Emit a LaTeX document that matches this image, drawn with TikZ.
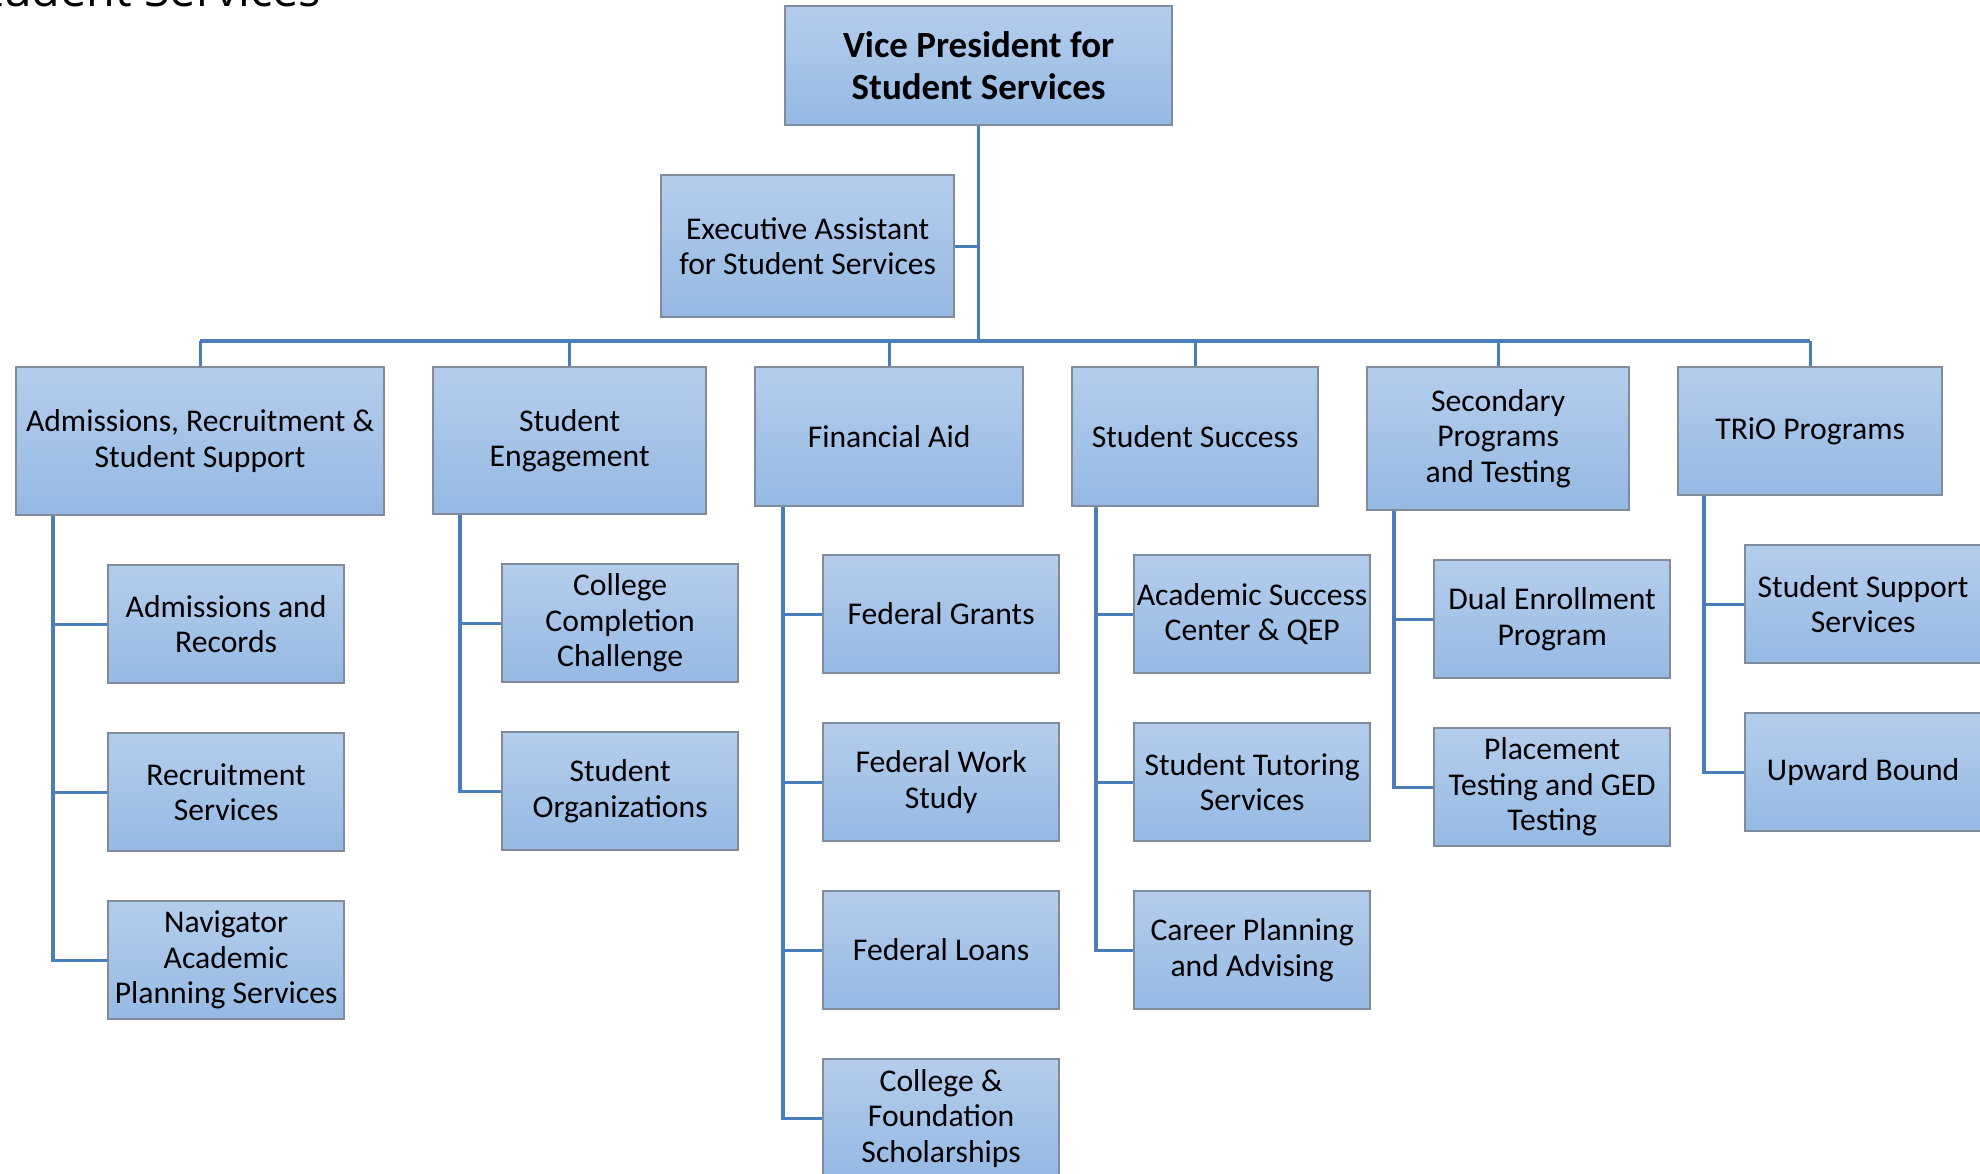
\documentclass[tikz,border=0pt]{standalone}
\usepackage{fontspec}
\setmainfont{Carlito}
\newfontfamily\titlefont{Open Sans}
\usepackage{xcolor}
\usepackage{tikz}
\usetikzlibrary{calc}
\usetikzlibrary{positioning}

\definecolor{boxtop}{RGB}{181,205,236}
\definecolor{boxbot}{RGB}{149,185,228}
\definecolor{boxline}{RGB}{128,140,156}
\definecolor{linkblue}{RGB}{74,126,187}

\tikzset{
	unit/.style={draw=boxline, line width=0.6pt, top color=boxtop, bottom color=boxbot,
		align=center, inner sep=0pt, anchor=north west, font=\fontsize{9}{10.1}\selectfont},
	sub/.style={unit, minimum width=2.36cm, minimum height=1.18cm},
	link/.style={draw=linkblue, line width=0.9pt},
}

\begin{document}
\begin{tikzpicture}[x=0.01cm,y=-0.01cm]
\clip (0,0) rectangle (1980,1173);
\fill[white] (0,0) rectangle (1980,1173);
% cut-off page title
\node[anchor=base east, inner sep=0pt, font=\titlefont\fontsize{13.3}{15}\selectfont] (title) at (322,7) {Student Services};
% top of the chart
\node[unit, minimum width=3.87cm, minimum height=1.19cm, font=\bfseries\fontsize{10.5}{11.9}\selectfont] (VP) at (784,5) {Vice President for\\Student Services};
\node[unit, minimum width=2.93cm, minimum height=1.42cm] (EA) at (660,174) {Executive Assistant\\for Student Services};
\coordinate (bus) at (977,341);
% departments
\node[unit, minimum width=3.68cm, minimum height=1.48cm] (ARSS) at (15,366) {Admissions, Recruitment \&\\Student Support};
\node[unit, minimum width=2.73cm, minimum height=1.47cm] (SE) at (432,366) {Student\\Engagement};
\node[unit, minimum width=2.68cm, minimum height=1.39cm] (FA) at (754,366) {Financial Aid};
\node[unit, minimum width=2.46cm, minimum height=1.39cm] (SS) at (1071,366) {Student Success};
\node[unit, minimum width=2.62cm, minimum height=1.43cm] (SPT) at (1366,366) {Secondary\\Programs\\and Testing};
\node[unit, minimum width=2.64cm, minimum height=1.28cm] (TRIO) at (1677,366) {TRiO Programs};
% units
\node[sub] (AR) at (107,564) {Admissions and\\Records};
\node[sub] (RS) at (107,732) {Recruitment\\Services};
\node[sub] (NAP) at (107,900) {Navigator\\Academic\\Planning Services};
\node[sub] (CCC) at (501,563) {College\\Completion\\Challenge};
\node[sub] (SO) at (501,731) {Student\\Organizations};
\node[sub] (FG) at (822,554) {Federal Grants};
\node[sub] (FWS) at (822,722) {Federal Work\\Study};
\node[sub] (FL) at (822,890) {Federal Loans};
\node[sub] (CFS) at (822,1058) {College \&\\Foundation\\Scholarships};
\node[sub] (ASC) at (1133,554) {Academic Success\\Center \& QEP};
\node[sub] (STS) at (1133,722) {Student Tutoring\\Services};
\node[sub] (CPA) at (1133,890) {Career Planning\\and Advising};
\node[sub] (DEP) at (1433,559) {Dual Enrollment\\Program};
\node[sub] (PT) at (1433,727) {Placement\\Testing and GED\\Testing};
\node[sub] (SSS) at (1744,544) {Student Support\\Services};
\node[sub] (UB) at (1744,712) {Upward Bound};
% connectors
\draw[link] (VP.south) -- (VP.south |- bus);
\draw[link] (EA.east) -- (EA.east -| VP.south);
\draw[link] (ARSS.north |- bus) -- (TRIO.north |- bus);
\foreach \h in {ARSS,SE,FA,SS,SPT,TRIO}
	\draw[link] (\h.north) -- (\h.north |- bus);
\foreach \p/\d/\c in {ARSS/0.38/AR, ARSS/0.38/RS, ARSS/0.38/NAP, SE/0.28/CCC, SE/0.28/SO,
	FA/0.29/FG, FA/0.29/FWS, FA/0.29/FL, FA/0.29/CFS, SS/0.25/ASC, SS/0.25/STS, SS/0.25/CPA,
	SPT/0.28/DEP, SPT/0.28/PT, TRIO/0.27/SSS, TRIO/0.27/UB}
	\draw[link] ([xshift=\d cm]\p.south west) |- (\c.west);
\end{tikzpicture}
\end{document}
